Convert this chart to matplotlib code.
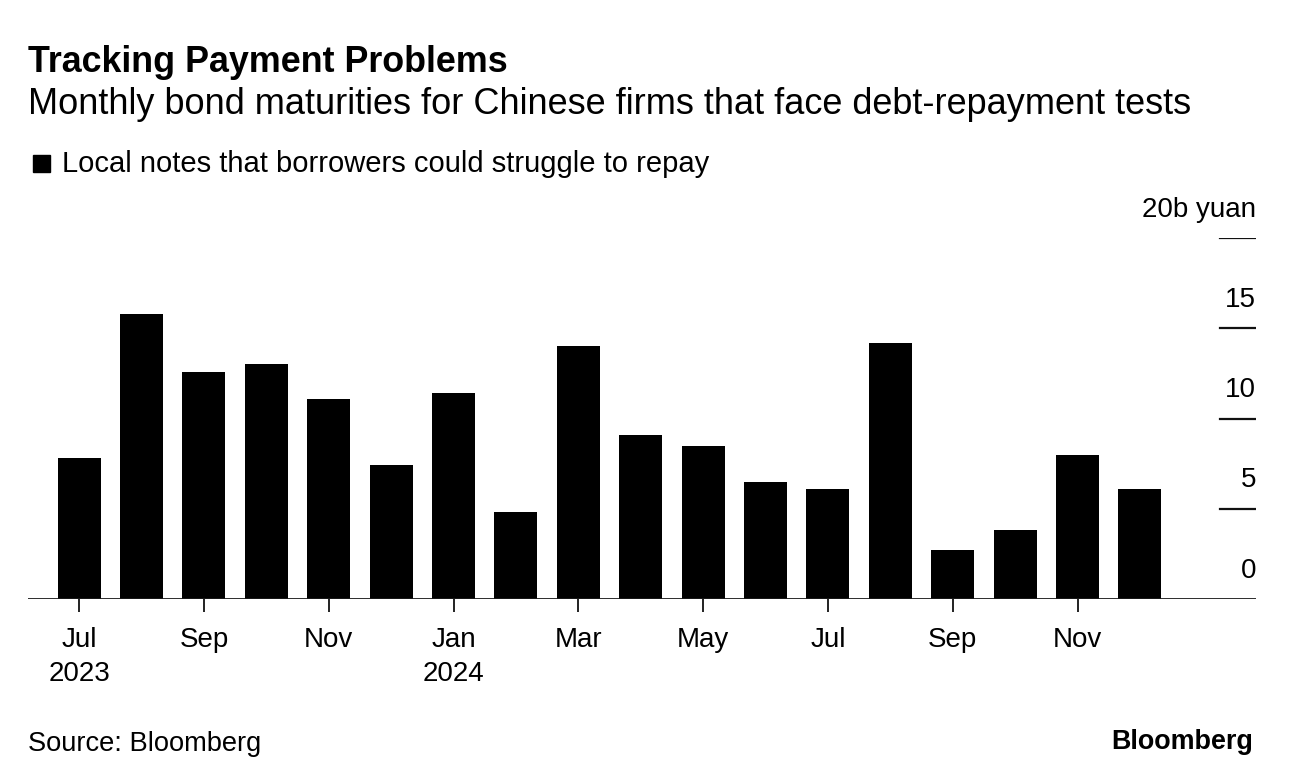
import matplotlib
matplotlib.use("Agg")
import matplotlib.pyplot as plt
import numpy as np

plt.rcParams['font.family'] = ['Liberation Sans', 'DejaVu Sans']

# monthly maturities, Jul 2023 .. Dec 2024 (billion yuan)
months = ["Jul", "Aug", "Sep", "Oct", "Nov", "Dec", "Jan", "Feb", "Mar",
          "Apr", "May", "Jun", "Jul", "Aug", "Sep", "Oct", "Nov", "Dec"]
values = [7.8, 15.8, 12.6, 13.0, 11.1, 7.4, 11.4, 4.8, 14.0,
          9.1, 8.5, 6.5, 6.1, 14.2, 2.7, 3.8, 8.0, 6.1]
tick_idx = [0, 2, 4, 6, 8, 10, 12, 14, 16]
tick_labels = ["Jul\n2023", "Sep", "Nov", "Jan\n2024", "Mar", "May", "Jul", "Sep", "Nov"]
y_ticks = [5, 10, 15, 20]
y_labels = ["5", "10", "15", "20b yuan"]

fig = plt.figure(figsize=(12.92, 7.84), dpi=100)
ax = fig.add_axes([28/1292, 1-599/784, 1228/1292, (599-238)/784])

x = np.arange(len(values))
ax.bar(x, values, width=0.69, color="black", zorder=2)
ax.set_xlim(-0.82, 18.86)
ax.set_ylim(0, 20)

for s in ax.spines.values():
    s.set_visible(False)
ax.axhline(0, color="#1a1a1a", lw=2.0, zorder=3)
ax.set_yticks([])
ax.set_xticks(tick_idx)
ax.set_xticklabels(tick_labels, fontsize=20, linespacing=1.4)
ax.tick_params(axis="x", length=9, width=1.4, color="#222222", pad=11)

# right-hand value ticks
for v, lab in zip(y_ticks, y_labels):
    ax.axhline(v, xmin=0.971, xmax=1.0, color="#111111", lw=1.6)
    ax.text(1.0, v + 0.85, lab, transform=ax.get_yaxis_transform(),
            ha="right", va="bottom", fontsize=20)
ax.text(1.0, 0.85, "0", transform=ax.get_yaxis_transform(),
        ha="right", va="bottom", fontsize=20)

fig.text(28/1292, 1-63/784, "Tracking Payment Problems", fontsize=25.8,
         fontweight="bold", va="center")
fig.text(28/1292, 1-105/784, "Monthly bond maturities for Chinese firms that face debt-repayment tests",
         fontsize=26, va="center")
fig.patches.append(plt.Rectangle((33/1292, 1-172/784), 17/1292, 17/784,
                                 transform=fig.transFigure, color="black"))
fig.text(62/1292, 1-164/784, "Local notes that borrowers could struggle to repay",
         fontsize=21, va="center")
fig.text(28/1292, 1-744/784, "Source: Bloomberg", fontsize=19.6, va="center")
fig.text(1253/1292, 1-742/784, "Bloomberg", fontsize=19.4, fontweight="bold",
         ha="right", va="center")

fig.savefig("out.png", dpi=100)
